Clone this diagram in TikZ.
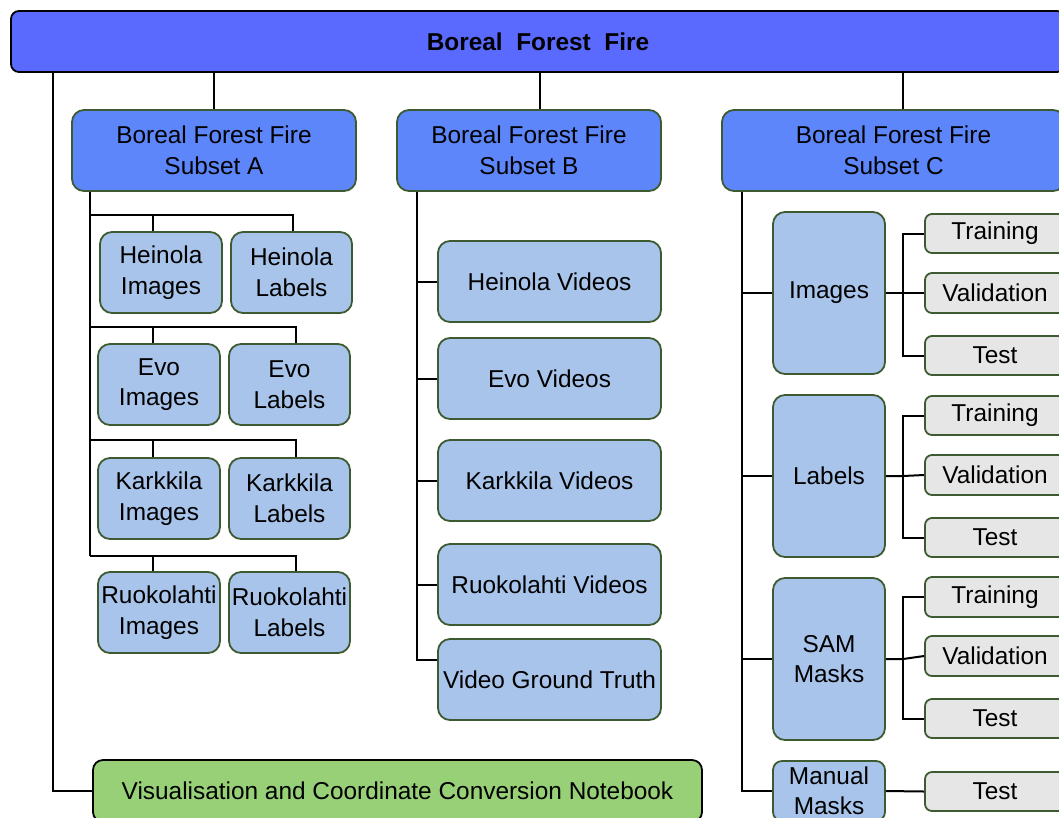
\documentclass[tikz,border=0pt]{standalone}
\usepackage{fontspec}
\setmainfont{Liberation Sans}
\definecolor{topc}{RGB}{90,106,255}
\definecolor{subc}{RGB}{92,134,250}
\definecolor{leafc}{RGB}{168,196,234}
\definecolor{splitc}{RGB}{230,230,230}
\definecolor{visc}{RGB}{152,208,120}
\definecolor{bord}{RGB}{62,90,48}
\tikzset{
  base/.style={draw=bord, line width=1.8pt, rounded corners=12pt, inner sep=0pt, align=center, font=\fontsize{24.4}{30.5}\selectfont},
  topbar/.style={base, draw=black, fill=topc, rounded corners=8pt},
  subbox/.style={base, fill=subc},
  leaf/.style={base, fill=leafc},
  splitbox/.style={base, fill=splitc, rounded corners=7pt},
  visbox/.style={base, draw=black, fill=visc, rounded corners=10pt},
  conn/.style={line width=2pt, black},
}
\begin{document}
\begin{tikzpicture}[x=1pt,y=-1pt]
\useasboundingbox (0,0) rectangle (1059,817);
\clip (0,0) rectangle (1059,817);

% top
\node[topbar, minimum width=1054pt, minimum height=61pt] (top) at (538,41.5) {\textbf{Boreal\ \ Forest\ \ Fire}};

% subsets
\node[subbox, minimum width=284pt, minimum height=81pt] (A) at (214,150.5) {Boreal Forest Fire\\Subset A};
\node[subbox, minimum width=264pt, minimum height=81pt] (B) at (529,150.5) {Boreal Forest Fire\\Subset B};
\node[subbox, minimum width=343pt, minimum height=81pt] (C) at (893.5,150.5) {Boreal Forest Fire\\Subset C};

% subset A leaves
\node[leaf, minimum width=122pt, minimum height=81pt] (HI) at (161,272.5) {Heinola\\Images};
\node[leaf, minimum width=121pt, minimum height=81pt] (HL) at (291.5,272.5) {Heinola\\Labels};
\node[leaf, minimum width=122pt, minimum height=81pt] (EI) at (159,384.5) {Evo\\Images};
\node[leaf, minimum width=121pt, minimum height=81pt] (EL) at (289.5,384.5) {Evo\\Labels};
\node[leaf, minimum width=122pt, minimum height=81pt] (KI) at (159,498.5) {Karkkila\\Images};
\node[leaf, minimum width=121pt, minimum height=81pt] (KL) at (289.5,498.5) {Karkkila\\Labels};
\node[leaf, minimum width=122pt, minimum height=81pt] (RI) at (159,612.5) {Ruokolahti\\Images};
\node[leaf, minimum width=121pt, minimum height=81pt] (RL) at (289.5,612.5) {Ruokolahti\\Labels};

% subset B leaves
\node[leaf, minimum width=223pt, minimum height=81pt] (HV) at (549.5,281.5) {Heinola Videos};
\node[leaf, minimum width=223pt, minimum height=81pt] (EV) at (549.5,378.5) {Evo Videos};
\node[leaf, minimum width=223pt, minimum height=81pt] (KV) at (549.5,480.5) {Karkkila Videos};
\node[leaf, minimum width=223pt, minimum height=81pt] (RV) at (549.5,584.5) {Ruokolahti Videos};
\node[leaf, minimum width=223pt, minimum height=81pt] (VGT) at (549.5,679.5) {Video Ground Truth};

% subset C
\node[leaf, minimum width=112pt, minimum height=162pt] (CI) at (829,293) {Images};
\node[leaf, minimum width=112pt, minimum height=162pt] (CL) at (829,476) {Labels};
\node[leaf, minimum width=112pt, minimum height=162pt] (CS) at (829,659) {SAM\\Masks};
\node[leaf, minimum width=112pt, minimum height=60pt, rounded corners=9pt] (CM) at (829,791) {Manual\\Masks};

\node[splitbox, minimum width=140pt, minimum height=39pt] (ITr) at (995,233.5) {Training};
\node[splitbox, minimum width=140pt, minimum height=40pt] (IVa) at (995,293) {Validation};
\node[splitbox, minimum width=140pt, minimum height=39pt] (ITe) at (995,355.5) {Test};
\node[splitbox, minimum width=140pt, minimum height=39pt] (LTr) at (995,415.5) {Training};
\node[splitbox, minimum width=140pt, minimum height=40pt] (LVa) at (995,475) {Validation};
\node[splitbox, minimum width=140pt, minimum height=39pt] (LTe) at (995,537.5) {Test};
\node[splitbox, minimum width=140pt, minimum height=40pt] (STr) at (995,597) {Training};
\node[splitbox, minimum width=140pt, minimum height=40pt] (SVa) at (995,656) {Validation};
\node[splitbox, minimum width=140pt, minimum height=39pt] (STe) at (995,718.5) {Test};
\node[splitbox, minimum width=140pt, minimum height=39pt] (MTe) at (995,791.5) {Test};

% visualisation
\node[visbox, minimum width=609pt, minimum height=62pt] (vis) at (397.5,791) {Visualisation and Coordinate Conversion Notebook};

% top connectors
\draw[conn] (A.north) -- (A.north |- top.south);
\draw[conn] ([xshift=11pt]B.north) -- ([xshift=11pt]B.north |- top.south);
\draw[conn] ([xshift=9.5pt]C.north) -- ([xshift=9.5pt]C.north |- top.south);
\draw[conn] ([xshift=43pt]top.south west) |- (vis.west);

% subset A
\coordinate (ta) at ([xshift=19pt]A.south west);
\coordinate (r1) at (0,215);
\coordinate (r2) at (0,327);
\coordinate (r3) at (0,440);
\coordinate (r4) at (0,556);
\draw[conn] (ta) -- (ta |- r4);
\draw[conn] (ta |- r1) -| ([xshift=1.5pt]HL.north);
\draw[conn] ([xshift=-8pt]HI.north |- r1) -- ([xshift=-8pt]HI.north);
\draw[conn] (ta |- r2) -| ([xshift=6.5pt]EL.north);
\draw[conn] ([xshift=-6pt]EI.north |- r2) -- ([xshift=-6pt]EI.north);
\draw[conn] (ta |- r3) -| ([xshift=6.5pt]KL.north);
\draw[conn] ([xshift=-6pt]KI.north |- r3) -- ([xshift=-6pt]KI.north);
\draw[conn] (ta |- r4) -| ([xshift=6.5pt]RL.north);
\draw[conn] ([xshift=-6pt]RI.north |- r4) -- ([xshift=-6pt]RI.north);

% subset B
\coordinate (tb) at ([xshift=21pt]B.south west);
\draw[conn] (tb) |- ([yshift=20pt]VGT.west);
\draw[conn] (tb |- HV.west) -- (HV.west);
\draw[conn] (tb |- EV.west) -- (EV.west);
\draw[conn] (tb |- KV.west) -- (KV.west);
\draw[conn] (tb |- RV.west) -- (RV.west);

% subset C
\coordinate (tc) at ([xshift=21pt]C.south west);
\draw[conn] (tc) |- (CM.west);
\draw[conn] (tc |- CI.west) -- (CI.west);
\draw[conn] (tc |- CL.west) -- (CL.west);
\draw[conn] (tc |- CS.west) -- (CS.west);

\draw[conn] (ITr.west) -- ++(-21,0) |- (ITe.west);
\draw[conn] (CI.east) -- ([xshift=-21pt]IVa.west |- CI.east) -- (IVa.west);
\draw[conn] (LTr.west) -- ++(-21,0) |- (LTe.west);
\draw[conn] (CL.east) -- ([xshift=-21pt]LVa.west |- CL.east) -- (LVa.west);
\draw[conn] (STr.west) -- ++(-21,0) |- (STe.west);
\draw[conn] (CS.east) -- ([xshift=-21pt]SVa.west |- CS.east) -- (SVa.west);
\draw[conn] (CM.east) -- (MTe.west);
\end{tikzpicture}
\end{document}
